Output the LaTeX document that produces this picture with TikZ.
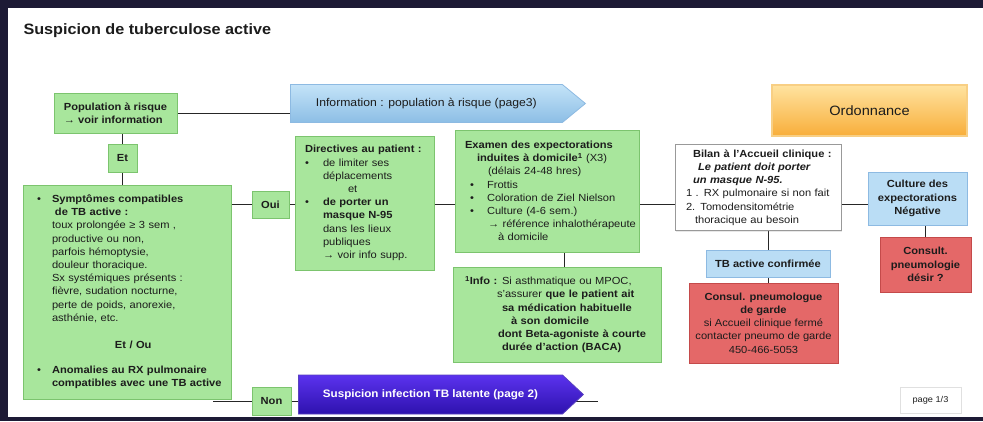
\documentclass[tikz,border=0pt]{standalone}
\usepackage{fontspec}
\setmainfont{Liberation Sans}[FakeStretch=1.08]
\usetikzlibrary{positioning,shapes.arrows,shadows}
\pgfdeclarelayer{back}
\pgfdeclarelayer{bg}
\pgfsetlayers{back,bg,main}
\definecolor{slidebg}{HTML}{1D1A35}
\definecolor{greenfill}{HTML}{A8E69C}
\definecolor{greenline}{HTML}{7CC46E}
\definecolor{redfill}{HTML}{E46868}
\definecolor{redline}{HTML}{C44A4A}
\definecolor{bluefill}{HTML}{BADDF5}
\definecolor{blueline}{HTML}{8DBAE2}
\definecolor{infotop}{HTML}{C4E3F8}
\definecolor{infobot}{HTML}{8CBDE5}
\definecolor{latenttop}{HTML}{5B32EE}
\definecolor{latentbot}{HTML}{2E12AE}
\definecolor{ordtop}{HTML}{FFE3A0}
\definecolor{ordbot}{HTML}{F8AE3A}
\definecolor{ordline}{HTML}{F8CF84}
\definecolor{inktext}{HTML}{1C1C1C}
\newcommand{\boxfont}{\fontsize{10.3}{13.2}\selectfont}
\newcommand{\ind}[1]{\hspace*{#1pt}}
\newcommand{\bul}[1][15]{\makebox[#1pt][l]{\textbullet}}

\begin{document}
\begin{tikzpicture}[x=1pt,y=-1pt,
  box/.style={draw, line width=0.8pt, inner ysep=2pt, inner xsep=2pt, text=inktext, font=\boxfont,
    drop shadow={opacity=0.18, shadow xshift=1pt, shadow yshift=-1pt}},
  greenbox/.style={box, draw=greenline, fill=greenfill},
  redbox/.style={box, draw=redline, fill=redfill, align=center},
  bluebox/.style={box, draw=blueline, fill=bluefill, align=center},
  link/.style={draw=black!85, line width=1pt},
  pagearrow/.style={single arrow, single arrow head extend=0pt, draw, line width=0.8pt, inner sep=0pt}]
\useasboundingbox (0,0) rectangle (983,421);
\begin{pgfonlayer}{back}
  \fill[slidebg] (0,0) rectangle (983,421);
  \fill[white] (8,8) rectangle (983,417);
\end{pgfonlayer}

\node[anchor=west, text=inktext, font=\fontsize{15}{18}\selectfont\bfseries] (title) at (20,31) {Suspicion de tuberculose active};

% colonne de gauche
\node[greenbox, minimum width=123pt, minimum height=40pt, align=left, font=\boxfont\bfseries] (pop) at (115.5,113) {Population à risque\\→ voir information};
\node[greenbox, minimum width=29pt, minimum height=28pt, font=\boxfont\bfseries] (et) at (122.5,158) {Et};
\node[greenbox, minimum width=208pt, minimum height=214pt, text width=204pt, align=left] (sympt) at (127,292) {%
\ind{12}\bul\textbf{Symptômes compatibles}\\
\ind{30}\textbf{de TB active :}\\
\ind{27}toux prolongée ≥ 3 sem ,\\
\ind{27}productive ou non,\\
\ind{27}parfois hémoptysie,\\
\ind{27}douleur thoracique.\\
\ind{27}Sx systémiques présents :\\
\ind{27}fièvre, sudation nocturne,\\
\ind{27}perte de poids, anorexie,\\
\ind{27}asthénie, etc.\\[14pt]
\ind{90}\textbf{Et / Ou}\\[12pt]
\ind{12}\bul\textbf{Anomalies au RX pulmonaire}\\
\ind{27}\textbf{compatibles avec une TB active}};
\node[greenbox, minimum width=37pt, minimum height=27pt, font=\boxfont\bfseries] (oui) at (270.5,204.5) {Oui};
\node[greenbox, minimum width=39pt, minimum height=28pt, font=\boxfont\bfseries] (non) at (271.5,401) {Non};

% fleches de renvoi
\node[pagearrow, anchor=tail, draw=blueline, top color=infotop, bottom color=infobot,
  minimum width=38pt, minimum height=295pt, single arrow tip angle=79,
  font=\fontsize{11.3}{13}\selectfont, text=inktext] (infoarr) at (290,103.5) {Information : population à risque (page3)};
\node[pagearrow, anchor=tail, draw=latentbot!80, top color=latenttop, bottom color=latentbot,
  minimum width=39pt, minimum height=285pt, single arrow tip angle=86,
  font=\fontsize{10.8}{13}\selectfont\bfseries, text=white] (latent) at (298,394.5) {Suspicion infection TB latente (page 2)};

% directives et examens
\node[greenbox, minimum width=139pt, minimum height=134pt, text width=135pt, align=left] (direct) at (364.5,203) {%
\ind{8}\textbf{Directives au patient :}\\
\ind{8}\bul[18]de limiter ses\\
\ind{26}déplacements\\
\ind{51}et\\
\ind{8}\bul[18]\textbf{de porter un}\\
\ind{26}\textbf{masque N-95}\\
\ind{26}dans les lieux\\
\ind{26}publiques\\
\ind{26}→ voir info supp.};
\node[greenbox, minimum width=184pt, minimum height=122pt, text width=180pt, align=left] (examen) at (547,191) {%
\ind{8}\textbf{Examen des expectorations}\\
\ind{20}\textbf{induites à domicile\textsuperscript{1}} (X3)\\
\ind{31}(délais 24-48 hres)\\
\ind{13}\bul[17]Frottis\\
\ind{13}\bul[17]Coloration de Ziel Nielson\\
\ind{13}\bul[17]Culture (4-6 sem.)\\
\ind{31}→ référence inhalothérapeute\\
\ind{41}à domicile};
\node[greenbox, minimum width=208pt, minimum height=95pt, text width=204pt, align=left] (info) at (557,314.5) {%
\ind{10}\makebox[37pt][l]{\textbf{\textsuperscript{1}Info :}}Si asthmatique ou MPOC,\\
\ind{42}s'assurer \textbf{que le patient ait}\\
\ind{47}\textbf{sa médication habituelle}\\
\ind{56}\textbf{à son domicile}\\
\ind{43}\textbf{dont Beta-agoniste à courte}\\
\ind{47}\textbf{durée d'action (BACA)}};

% accueil clinique
\node[box, draw=black!40, fill=white, minimum width=166pt, minimum height=86pt, text width=162pt, align=left] (bilan) at (758,187.5) {%
\ind{16}\textbf{Bilan à l'Accueil clinique :}\\
\ind{21}\textbf{\itshape Le patient doit porter}\\
\ind{16}\textbf{\itshape un masque N-95.}\\
\ind{9}1 . RX pulmonaire si non fait\\
\ind{9}2. Tomodensitométrie\\
\ind{18}thoracique au besoin};
\node[bluebox, minimum width=124pt, minimum height=27pt, font=\boxfont\bfseries] (tbconf) at (768,263.5) {TB active confirmée};
\node[redbox, minimum width=149pt, minimum height=80pt] (consul) at (763.5,323) {%
\textbf{Consul. pneumologue}\\
\textbf{de garde}\\
si Accueil clinique fermé\\
contacter pneumo de garde\\
450-466-5053};
\node[bluebox, minimum width=99pt, minimum height=53pt, font=\fontsize{10.3}{13.2}\selectfont\bfseries] (culture) at (917.5,198.5) {Culture des\\expectorations\\Négative};
\node[redbox, minimum width=91pt, minimum height=55pt, font=\fontsize{10.3}{13.5}\selectfont\bfseries] (consult) at (925.5,264.5) {Consult.\\pneumologie\\désir ?};

\node[box, draw=ordline, line width=1.5pt, top color=ordtop, bottom color=ordbot, minimum width=195pt, minimum height=51pt,
  font=\fontsize{13.5}{16}\selectfont] (ordo) at (869.5,110.5) {Ordonnance};
\node[box, draw=black!12, fill=white, minimum width=61pt, minimum height=26pt, font=\fontsize{8.5}{10}\selectfont] (page) at (930.5,400) {page 1/3};

\begin{pgfonlayer}{bg}
  \coordinate (nonstart) at (213,401);
  \coordinate (latentend) at (598,401);
  \draw[link] (pop.east) -- (pop.east -| infoarr.tail);
  \draw[link] (pop.south -| et) -- (et.north);
  \draw[link] (et.south) -- (et.south |- sympt.north);
  \draw[link] (oui.west -| sympt.east) -- (oui.west);
  \draw[link] (oui.east) -- (oui.east -| direct.west);
  \draw[link] (oui.east -| direct.east) -- (oui.east -| examen.west);
  \draw[link] (oui.east -| examen.east) -- (oui.east -| bilan.west);
  \draw[link] (oui.east -| bilan.east) -- (oui.east -| culture.west);
  \draw[link] ([xshift=7pt]info.north |- examen.south) -- ([xshift=7pt]info.north);
  \draw[link] (tbconf.north |- bilan.south) -- (tbconf.north);
  \draw[link] (tbconf.south) -- (tbconf.south |- consul.north);
  \draw[link] (consult.north |- culture.south) -- (consult.north);
  \draw[link] (nonstart) -- (non.west);
  \draw[link] (non.east) -- (latentend);
\end{pgfonlayer}
\end{tikzpicture}
\end{document}
